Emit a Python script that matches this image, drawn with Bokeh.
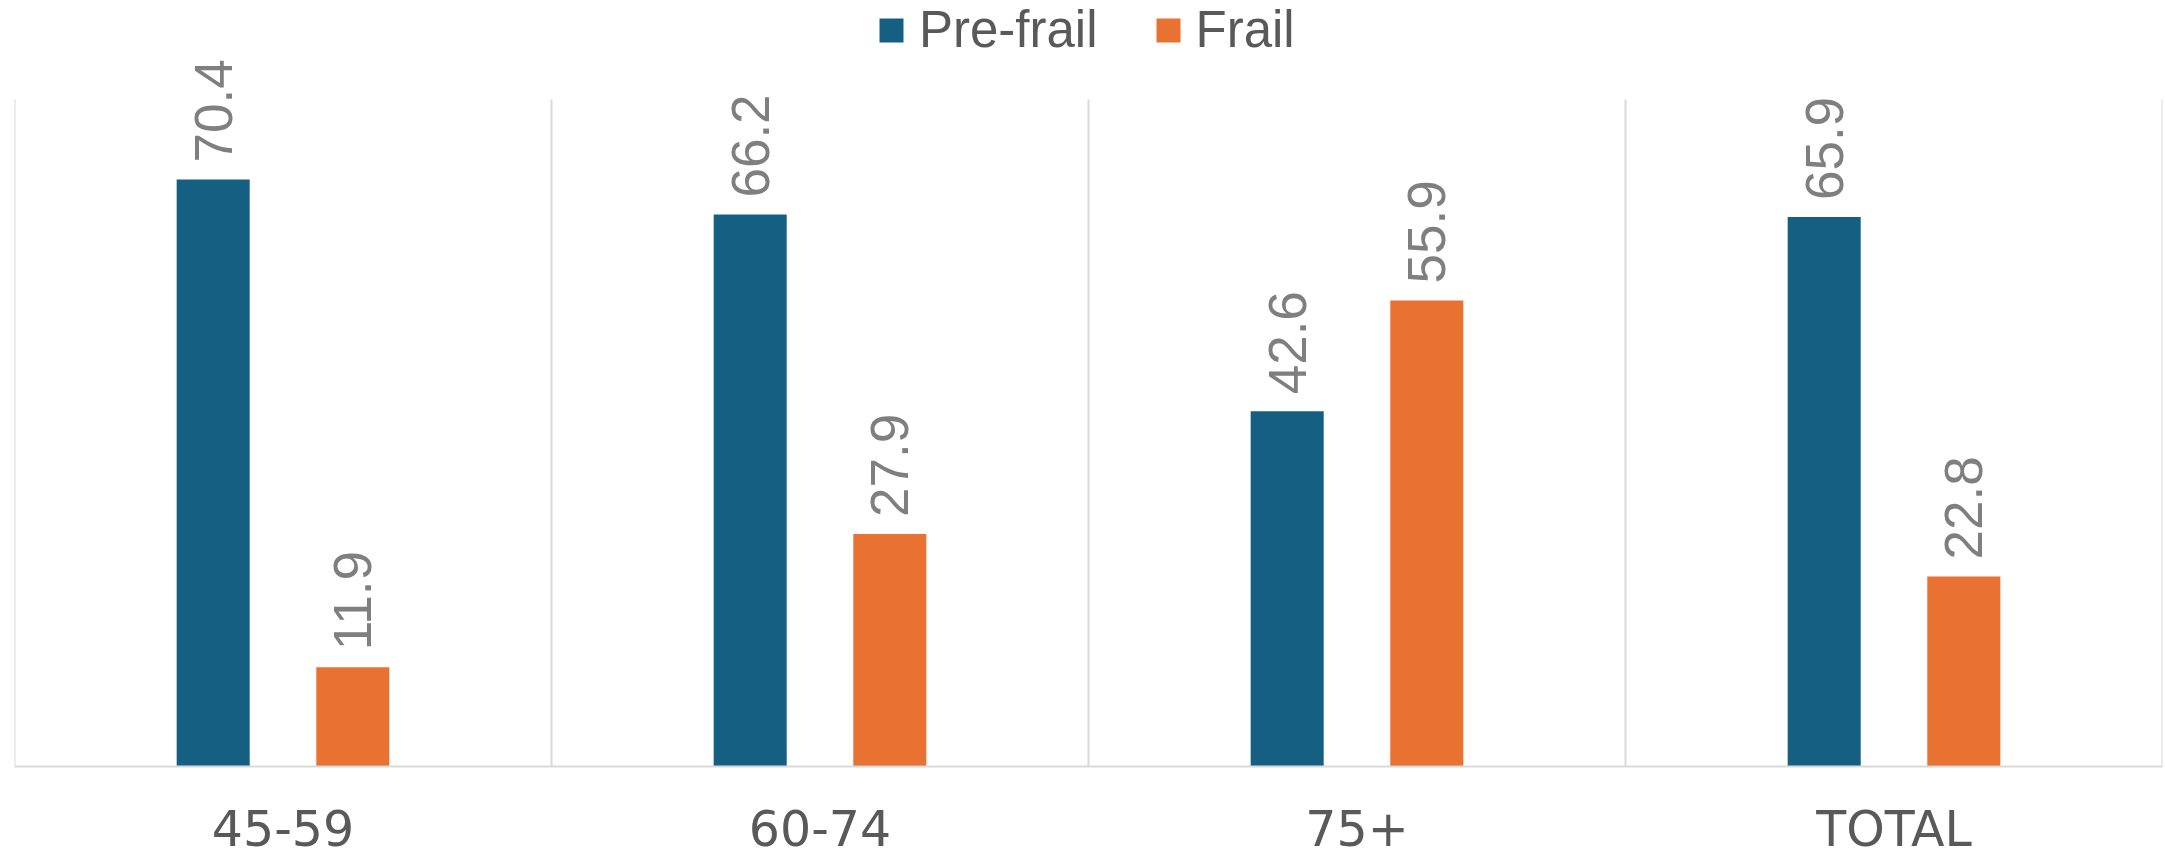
import math
from bokeh.plotting import figure
from bokeh.models import Range1d, FixedTicker, LabelSet, ColumnDataSource, Legend, LegendItem
from bokeh.core.properties import value
from bokeh.embed import file_html
from bokeh.resources import INLINE

categories = ["45-59", "60-74", "75+", "TOTAL"]
pre_frail = [70.4, 66.2, 42.6, 65.9]
frail = [11.9, 27.9, 55.9, 22.8]
series_names = ["Pre-frail", "Frail"]
series_colors = ["#156082", "#E97132"]
y_axis_max = 80

FONT = "Liberation Sans"
CAT_FONT = "DejaVu Sans"
n = len(categories)
centers = [i + 0.5 for i in range(n)]
boundaries = list(range(n + 1))
offset = 0.13
bar_w = 0.136

# layout: canvas 857 px tall, value 0 sits at 766 px, axis max at 99 px
H = 857
base_px, top_px = 766, 99
ppu = (base_px - top_px) / y_axis_max
y_start = -(H - base_px) / ppu
y_end = base_px / ppu

src_pre = ColumnDataSource(dict(
    x=[c - offset for c in centers], top=pre_frail,
    label=[f"{v:.1f}" for v in pre_frail]))
src_fr = ColumnDataSource(dict(
    x=[c + offset for c in centers], top=frail,
    label=[f"{v:.1f}" for v in frail]))

p = figure(width=2165, height=H, x_range=Range1d(0, n), y_range=Range1d(y_start, y_end),
           output_backend="svg", toolbar_location=None,
           min_border_left=14, min_border_right=3, min_border_top=0, min_border_bottom=0)
p.outline_line_color = None
p.background_fill_color = "white"
p.border_fill_color = "white"
p.xgrid.visible = False
p.ygrid.visible = False

# category separators / side borders
p.segment(x0=boundaries, y0=[0] * len(boundaries), x1=boundaries, y1=[y_axis_max] * len(boundaries),
          line_color="#d9d9d9", line_width=2)

r1 = p.vbar(x="x", top="top", width=bar_w, bottom=0, source=src_pre, color=series_colors[0], line_color=None)
r2 = p.vbar(x="x", top="top", width=bar_w, bottom=0, source=src_fr, color=series_colors[1], line_color=None)

for src in (src_pre, src_fr):
    p.add_layout(LabelSet(x="x", y="top", text="label", source=src, angle=math.pi / 2,
                          text_align="left", text_baseline="middle", y_offset=17,
                          text_font=value(FONT), text_font_size="53px", text_color="#7f7f7f"))

p.yaxis.visible = False
p.xaxis.fixed_location = 0
p.xaxis.ticker = FixedTicker(ticks=centers)
p.xaxis.major_label_overrides = {c: cat for c, cat in zip(centers, categories)}
p.xaxis.major_tick_line_color = None
p.xaxis.minor_tick_line_color = None
p.xaxis.axis_line_color = "#d9d9d9"
p.xaxis.axis_line_width = 2
p.xaxis.major_label_text_font = CAT_FONT
p.xaxis.major_label_text_font_size = "49px"
p.xaxis.major_label_text_color = "#595959"
p.xaxis.major_label_standoff = 28

legend = Legend(items=[LegendItem(label=series_names[0], renderers=[r1]),
                       LegendItem(label=series_names[1], renderers=[r2])],
                orientation="horizontal", location=(862, 798),
                padding=0, margin=0, spacing=55, label_standoff=13,
                glyph_width=30, glyph_height=30,
                label_text_font=FONT, label_text_font_size="51px", label_text_color="#595959",
                border_line_color=None, background_fill_alpha=0)
p.add_layout(legend, "center")

open("out.html", "w").write(file_html(p, INLINE))
